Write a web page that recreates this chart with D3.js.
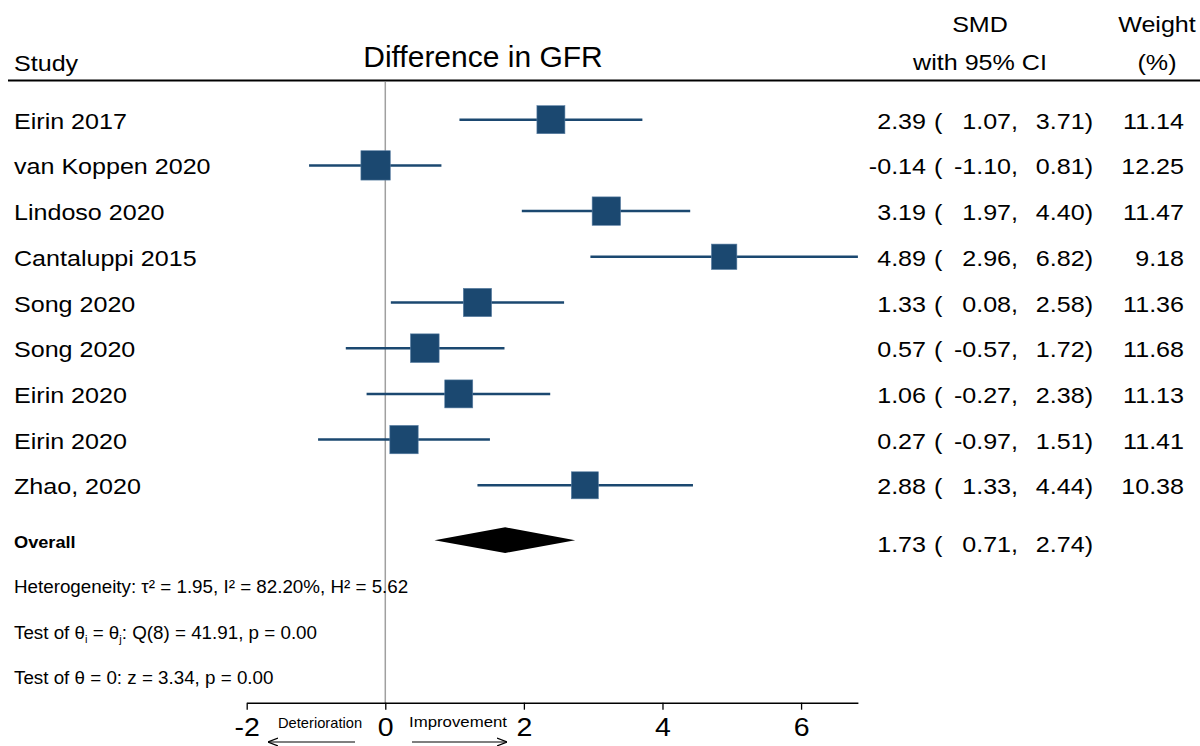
<!DOCTYPE html>
<html>
<head>
<meta charset="utf-8">
<script src="https://cdn.jsdelivr.net/npm/d3@7"></script>
<style>
  body { margin: 0; background: #fff; }
  svg { display: block; font-family: "Liberation Sans", Arial, Helvetica, sans-serif; }
</style>
</head>
<body>
<div id="chart"></div>
<script>
// data
var studies = ['Eirin 2017', 'van Koppen 2020', 'Lindoso 2020', 'Cantaluppi 2015', 'Song 2020',
  'Song 2020', 'Eirin 2020', 'Eirin 2020', 'Zhao, 2020'];
var smd = [2.39, -0.14, 3.19, 4.89, 1.33, 0.57, 1.06, 0.27, 2.88];
var lower = [1.07, -1.10, 1.97, 2.96, 0.08, -0.57, -0.27, -0.97, 1.33];
var upper = [3.71, 0.81, 4.40, 6.82, 2.58, 1.72, 2.38, 1.51, 4.44];
var weights = [11.14, 12.25, 11.47, 9.18, 11.36, 11.68, 11.13, 11.41, 10.38];
var overall = { est: 1.73, lo: 0.71, hi: 2.74 };
var xTicks = [-2, 0, 2, 4, 6];
var xDomain = [-2, 6.82];

var width = 1200, height = 746;
var SX = 1.14; // reference text is drawn slightly wide
var blue = '#1b4870';
var locale = d3.formatLocale({ decimal: '.', thousands: ',', grouping: [3], currency: ['', ''], minus: '-' });
var fmt = locale.format('.2f');

var svg = d3.select('#chart').append('svg')
  .attr('width', width)
  .attr('height', height);

var x = d3.scaleLinear().domain(xDomain).range([246.7, 857.9]);
var y = d3.scaleLinear().domain([0, 8]).range([119.7, 485.3]);
var side = d3.scaleSqrt().domain([0, d3.max(weights)]).range([0, 8.39 * Math.sqrt(d3.max(weights))]);

function txt(parent, px, py, s, o) {
  o = o || {};
  return parent.append('text')
    .attr('transform', 'translate(' + px + ',' + py + ') scale(' + (o.sx == null ? SX : o.sx) + ',1)')
    .attr('text-anchor', o.anchor || 'start')
    .attr('font-size', (o.size || 22) + 'px')
    .attr('font-weight', o.weight || 'normal')
    .attr('fill', '#000')
    .text(s);
}

// header
txt(svg, 14, 71, 'Study');
txt(svg, 483, 67, 'Difference in GFR', { anchor: 'middle', size: 30, sx: 1 });
txt(svg, 980, 32, 'SMD', { anchor: 'middle' });
txt(svg, 980, 70, 'with 95% CI', { anchor: 'middle' });
txt(svg, 1157, 32, 'Weight', { anchor: 'middle' });
txt(svg, 1157, 70, '(%)', { anchor: 'middle' });
svg.append('line')
  .attr('x1', 8).attr('x2', width)
  .attr('y1', 80.5).attr('y2', 80.5)
  .attr('stroke', '#000').attr('stroke-width', 2);

// zero line
svg.append('line')
  .attr('x1', x(0)).attr('x2', x(0))
  .attr('y1', 82).attr('y2', 703)
  .attr('stroke', '#a0a0a0').attr('stroke-width', 1.5);

// study rows
var rows = svg.append('g').selectAll('g')
  .data(studies)
  .join('g')
  .attr('class', 'row');

rows.append('line')
  .attr('x1', function (d, i) { return x(lower[i]); })
  .attr('x2', function (d, i) { return x(upper[i]); })
  .attr('y1', function (d, i) { return y(i); })
  .attr('y2', function (d, i) { return y(i); })
  .attr('stroke', blue)
  .attr('stroke-width', 2.5);

rows.append('rect')
  .attr('x', function (d, i) { return x(smd[i]) - side(weights[i]) / 2; })
  .attr('y', function (d, i) { return y(i) - side(weights[i]) / 2; })
  .attr('width', function (d, i) { return side(weights[i]); })
  .attr('height', function (d, i) { return side(weights[i]); })
  .attr('fill', blue)
  .attr('stroke', '#5a7fa3')
  .attr('stroke-width', 0.6);

rows.each(function (d, i) {
  var g = d3.select(this);
  var by = y(i) + 9;
  txt(g, 14, by, d);
  txt(g, 926, by, fmt(smd[i]), { anchor: 'end' });
  txt(g, 934, by, '(');
  txt(g, 1018, by, fmt(lower[i]) + ',', { anchor: 'end' });
  txt(g, 1093, by, fmt(upper[i]) + ')', { anchor: 'end' });
  txt(g, 1184, by, fmt(weights[i]), { anchor: 'end' });
});

// overall
var yo = y(9.2);
svg.append('path')
  .attr('d', 'M' + x(overall.lo) + ',' + yo +
    'L' + x(overall.est) + ',' + (yo - 12.8) +
    'L' + x(overall.hi) + ',' + yo +
    'L' + x(overall.est) + ',' + (yo + 12.8) + 'Z')
  .attr('fill', '#000');
txt(svg, 14, yo + 7.5, 'Overall', { size: 17, weight: 'bold', sx: 1.07 });
txt(svg, 926, yo + 12, fmt(overall.est), { anchor: 'end' });
txt(svg, 934, yo + 12, '(');
txt(svg, 1018, yo + 12, fmt(overall.lo) + ',', { anchor: 'end' });
txt(svg, 1093, yo + 12, fmt(overall.hi) + ')', { anchor: 'end' });

// footer statistics
var foot = svg.append('g').attr('font-size', '18.8px');
foot.append('text').attr('x', 14).attr('y', y(10.2) + 7)
  .text('Heterogeneity: \u03c4\u00b2 = 1.95, I\u00b2 = 82.20%, H\u00b2 = 5.62');

var f2 = foot.append('text').attr('x', 14).attr('y', y(11.2) + 7);
f2.append('tspan').text('Test of \u03b8');
f2.append('tspan').attr('dy', 4).attr('font-size', '11px').text('i');
f2.append('tspan').attr('dy', -4).text(' = \u03b8');
f2.append('tspan').attr('dy', 4).attr('font-size', '11px').text('j');
f2.append('tspan').attr('dy', -4).text(': Q(8) = 41.91, p = 0.00');

foot.append('text').attr('x', 14).attr('y', y(12.2) + 7)
  .text('Test of \u03b8 = 0: z = 3.34, p = 0.00');

// x axis
var axisG = svg.append('g')
  .attr('transform', 'translate(0,702.7)')
  .call(d3.axisBottom(x).tickValues(xTicks).tickSize(7).tickSizeOuter(0).tickFormat(locale.format('d')));
axisG.select('.domain').attr('stroke', '#000').attr('stroke-width', 1.5);
axisG.selectAll('.tick line').attr('stroke', '#000').attr('stroke-width', 1.3);
axisG.selectAll('.tick text')
  .attr('y', 33).attr('dy', null)
  .attr('font-size', '25px')
  .attr('font-family', '"Liberation Sans", Arial, Helvetica, sans-serif')
  .attr('fill', '#000')
  .attr('transform', 'scale(' + SX + ',1)');

// direction labels and arrows
var defs = svg.append('defs');
defs.append('marker')
  .attr('id', 'arrow')
  .attr('viewBox', '0 0 10 10')
  .attr('refX', 10).attr('refY', 5)
  .attr('markerWidth', 10).attr('markerHeight', 10)
  .attr('markerUnits', 'userSpaceOnUse')
  .attr('orient', 'auto')
  .append('path')
  .attr('d', 'M0,1L10,5L0,9')
  .attr('fill', 'none')
  .attr('stroke', '#000')
  .attr('stroke-width', 1.2);

txt(svg, 278, 728, 'Deterioration', { size: 14, sx: 1.05 });
txt(svg, 409, 727, 'Improvement', { size: 14, sx: 1.2 });
svg.append('line')
  .attr('x1', 355).attr('x2', 268).attr('y1', 742).attr('y2', 742)
  .attr('stroke', '#000').attr('stroke-width', 1.2)
  .attr('marker-end', 'url(#arrow)');
svg.append('line')
  .attr('x1', 412).attr('x2', 507).attr('y1', 742).attr('y2', 742)
  .attr('stroke', '#000').attr('stroke-width', 1.2)
  .attr('marker-end', 'url(#arrow)');
</script>
</body>
</html>
